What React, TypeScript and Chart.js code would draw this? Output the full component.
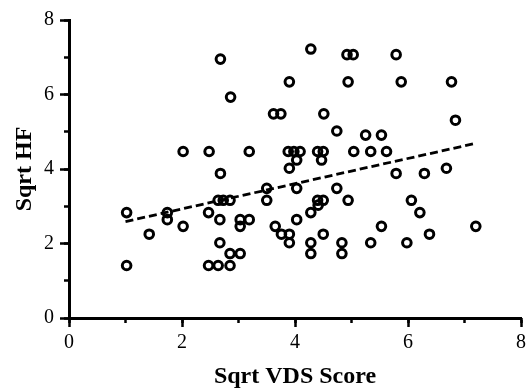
import React, { useEffect, useRef } from "react";
import { Chart, registerables } from "chart.js";

Chart.register(...registerables);

// Sqrt VDS Score (x) and Sqrt HF (y) for each subject
const vdsScore = [
  4.28, 4.92, 5.03, 5.79, 2.68, 3.9, 4.94, 5.88, 6.77, 2.86,
  3.62, 3.75, 4.51, 6.84, 4.74, 5.25, 5.53,
  2.02, 2.48, 3.19, 3.88, 3.98, 4.09, 4.4, 4.5, 5.04, 5.34, 5.62,
  4.03, 4.47, 3.9, 6.68, 2.68, 5.79, 6.29, 3.5, 4.03, 4.74,
  2.64, 2.73, 2.85, 3.5, 4.4, 4.5, 4.94, 6.06, 4.41,
  1.02, 1.74, 2.47, 4.28, 6.21,
  1.74, 2.67, 3.03, 3.19, 4.03,
  2.02, 3.03, 3.65, 5.53, 7.2,
  1.42, 3.76, 3.9, 4.5, 6.38,
  2.67, 3.9, 4.28, 4.83, 5.34, 5.98,
  2.85, 3.03, 4.28, 4.83,
  1.02, 2.47, 2.64, 2.85,
];
const sqrtHF = [
  7.22, 7.07, 7.07, 7.07, 6.95, 6.34, 6.34, 6.34, 6.34, 5.93,
  5.48, 5.48, 5.48, 5.31, 5.02, 4.91, 4.91,
  4.47, 4.47, 4.47, 4.47, 4.47, 4.47, 4.47, 4.47, 4.47, 4.47, 4.47,
  4.24, 4.24, 4.02, 4.02, 3.88, 3.88, 3.88, 3.48, 3.48, 3.48,
  3.16, 3.16, 3.16, 3.16, 3.16, 3.16, 3.16, 3.16, 3.03,
  2.83, 2.83, 2.83, 2.83, 2.83,
  2.64, 2.64, 2.64, 2.64, 2.64,
  2.46, 2.46, 2.46, 2.46, 2.46,
  2.25, 2.25, 2.25, 2.25, 2.25,
  2.02, 2.02, 2.02, 2.02, 2.02, 2.02,
  1.73, 1.73, 1.73, 1.73,
  1.41, 1.41, 1.41, 1.41,
];

// regression line end points
const fitX = [1.0, 7.2];
const fitY = [2.59, 4.69];

const xTitle = "Sqrt VDS Score";
const yTitle = "Sqrt HF";

const FONT = "'Liberation Serif', 'Times New Roman', serif";

export default function App() {
  const ref = useRef<HTMLCanvasElement>(null);

  useEffect(() => {
    if (!ref.current) return;
    const points = vdsScore.map((x, i) => ({ x, y: sqrtHF[i] }));
    const line = fitX.map((x, i) => ({ x, y: fitY[i] }));

    const tickFont = { family: FONT, size: 20 };
    const titleFont = { family: FONT, size: 24, weight: "bold" as const };

    const chart = new Chart(ref.current, {
      type: "scatter",
      data: {
        datasets: [
          {
            data: points,
            pointStyle: "circle",
            pointRadius: 4.3,
            pointBorderWidth: 3,
            borderColor: "#000",
            backgroundColor: "rgba(0,0,0,0)",
            showLine: false,
          },
          {
            data: line,
            showLine: true,
            pointRadius: 0,
            borderColor: "#000",
            borderWidth: 2.8,
            borderDash: [8, 4],
            fill: false,
          },
        ],
      },
      options: {
        responsive: false,
        animation: false,
        layout: {
          autoPadding: false,
          padding: { left: 0, top: 20, right: 5, bottom: 0 },
        },
        plugins: {
          legend: { display: false },
          tooltip: { enabled: false },
        },
        scales: {
          xMinor: {
            type: "linear",
            position: "bottom",
            weight: 0,
            min: 0,
            max: 8,
            ticks: { stepSize: 1, display: false },
            grid: {
              drawOnChartArea: false,
              drawTicks: true,
              tickLength: 5,
              tickWidth: 2.5,
              tickColor: "#000",
            },
            border: { display: false },
            afterFit: (s: any) => {
              s.height = 0;
            },
          },
          x: {
            type: "linear",
            position: "bottom",
            weight: 1,
            min: 0,
            max: 8,
            ticks: {
              stepSize: 2,
              color: "#000",
              font: tickFont,
              padding: 4,
              maxRotation: 0,
            },
            grid: {
              drawOnChartArea: false,
              drawTicks: true,
              tickLength: 9,
              tickWidth: 2.5,
              tickColor: "#000",
            },
            border: { display: true, width: 3, color: "#000" },
            title: {
              display: true,
              text: xTitle,
              color: "#000",
              font: titleFont,
              padding: { top: 0, bottom: -2 },
            },
            afterFit: (s: any) => {
              s.height = 71;
              s.paddingRight = 0;
            },
          },
          yMinor: {
            type: "linear",
            position: "left",
            weight: 0,
            min: 0,
            max: 8,
            ticks: { stepSize: 1, display: false },
            grid: {
              drawOnChartArea: false,
              drawTicks: true,
              tickLength: 5,
              tickWidth: 2.5,
              tickColor: "#000",
            },
            border: { display: false },
            afterFit: (s: any) => {
              s.width = 0;
            },
          },
          y: {
            type: "linear",
            position: "left",
            weight: 1,
            min: 0,
            max: 8,
            ticks: {
              stepSize: 2,
              color: "#000",
              font: tickFont,
              padding: 6,
            },
            grid: {
              drawOnChartArea: false,
              drawTicks: true,
              tickLength: 9,
              tickWidth: 2.5,
              tickColor: "#000",
            },
            border: { display: true, width: 3, color: "#000" },
            title: {
              display: true,
              text: yTitle,
              color: "#000",
              font: titleFont,
              padding: { top: 10, bottom: 0 },
            },
            afterFit: (s: any) => {
              s.width = 69;
            },
          },
        },
      },
    });
    return () => chart.destroy();
  }, []);

  return (
    <div
      style={{
        position: "fixed",
        left: 0,
        top: 0,
        width: 526,
        height: 389,
        background: "#fff",
      }}
    >
      <canvas ref={ref} width={526} height={389} style={{ display: "block" }} />
    </div>
  );
}
